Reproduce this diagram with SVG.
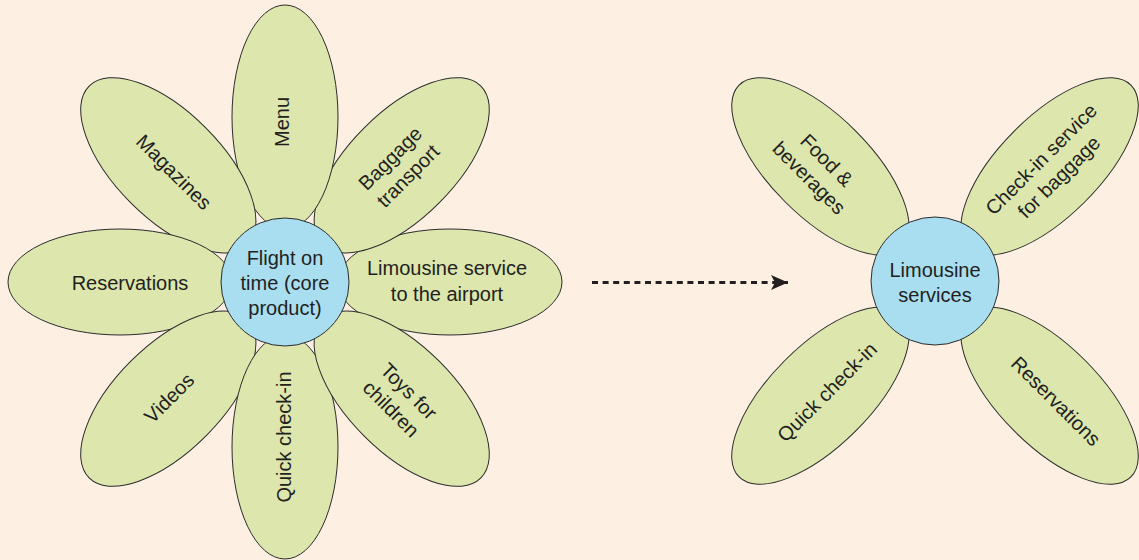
<svg xmlns="http://www.w3.org/2000/svg" width="1139" height="560" viewBox="0 0 1139 560">
  <defs>
    <style>
      .petal { fill: #dce6ad; stroke: #2b2b2b; stroke-width: 1; }
      .core { fill: #a9def0; stroke: #2b2b2b; stroke-width: 1; }
      .lbl { font-family: "Liberation Sans", Arial, sans-serif; font-size: 20px; fill: #231f20; text-anchor: middle; }
      .link { fill: none; stroke: #231f20; stroke-width: 2.8; stroke-dasharray: 6 4.6; }
    </style>
    <marker id="head" viewBox="0 0 18 16" refX="17" refY="8" markerWidth="18" markerHeight="16" markerUnits="userSpaceOnUse" orient="auto">
      <path d="M0,0.5 L17,8 L0,15.5 L4,8 Z" fill="#231f20"/>
    </marker>
  </defs>

  <rect width="1139" height="560" fill="#fdf0e2"/>

  <!-- Left flower: petals stacked bottom to top, then the core -->
  <g id="left-flower">
    <g id="petal-limousine">
      <ellipse class="petal" cx="450" cy="282" rx="112" ry="53"/>
      <text class="lbl" x="447" y="275">Limousine service</text>
      <text class="lbl" x="447" y="301">to the airport</text>
    </g>
    <g id="petal-baggage">
      <ellipse class="petal" cx="401.7" cy="165.3" rx="112" ry="53" transform="rotate(-45 401.7 165.3)"/>
      <g transform="translate(399 167) rotate(-45)">
        <text class="lbl" x="0" y="-5.5">Baggage</text>
        <text class="lbl" x="0" y="19.5">transport</text>
      </g>
    </g>
    <g id="petal-menu">
      <ellipse class="petal" cx="285" cy="117" rx="53" ry="112"/>
      <text class="lbl" transform="translate(282 122) rotate(-90)" x="0" y="7">Menu</text>
    </g>
    <g id="petal-magazines">
      <ellipse class="petal" cx="168.3" cy="165.3" rx="112" ry="53" transform="rotate(45 168.3 165.3)"/>
      <text class="lbl" transform="translate(174 172) rotate(45)" x="0" y="7">Magazines</text>
    </g>
    <g id="petal-reservations">
      <ellipse class="petal" cx="120" cy="282" rx="112" ry="53"/>
      <text class="lbl" x="130" y="290">Reservations</text>
    </g>
    <g id="petal-videos">
      <ellipse class="petal" cx="168.3" cy="398.7" rx="112" ry="53" transform="rotate(-45 168.3 398.7)"/>
      <text class="lbl" transform="translate(169 398) rotate(-45)" x="0" y="7">Videos</text>
    </g>
    <g id="petal-quick-checkin">
      <ellipse class="petal" cx="285" cy="447" rx="53" ry="112"/>
      <text class="lbl" transform="translate(284 437) rotate(-90)" x="0" y="7">Quick check-in</text>
    </g>
    <g id="petal-toys">
      <ellipse class="petal" cx="401.7" cy="398.7" rx="112" ry="53" transform="rotate(45 401.7 398.7)"/>
      <g transform="translate(400 400) rotate(45)">
        <text class="lbl" x="0" y="-5.5">Toys for</text>
        <text class="lbl" x="0" y="19.5">children</text>
      </g>
    </g>
    <g id="core-flight">
      <circle class="core" cx="285" cy="282" r="64"/>
      <text class="lbl" x="285" y="265">Flight on</text>
      <text class="lbl" x="285" y="290">time (core</text>
      <text class="lbl" x="285" y="315">product)</text>
    </g>
  </g>

  <!-- Right flower -->
  <g id="right-flower">
    <g id="petal-food">
      <ellipse class="petal" cx="820.4" cy="166.4" rx="115" ry="50" transform="rotate(45 820.4 166.4)"/>
      <g transform="translate(818 169) rotate(45)">
        <text class="lbl" x="0" y="-5.5">Food &amp;</text>
        <text class="lbl" x="0" y="19.5">beverages</text>
      </g>
    </g>
    <g id="petal-checkin-baggage">
      <ellipse class="petal" cx="1049.6" cy="166.4" rx="115" ry="50" transform="rotate(-45 1049.6 166.4)"/>
      <g transform="translate(1050 168) rotate(-45)">
        <text class="lbl" x="0" y="-5.5">Check-in service</text>
        <text class="lbl" x="0" y="19.5">for baggage</text>
      </g>
    </g>
    <g id="petal-quick-checkin-2">
      <ellipse class="petal" cx="820.4" cy="395.6" rx="115" ry="50" transform="rotate(-45 820.4 395.6)"/>
      <text class="lbl" transform="translate(827 392) rotate(-45)" x="0" y="7">Quick check-in</text>
    </g>
    <g id="petal-reservations-2">
      <ellipse class="petal" cx="1049.6" cy="395.6" rx="115" ry="50" transform="rotate(45 1049.6 395.6)"/>
      <text class="lbl" transform="translate(1056 401) rotate(45)" x="0" y="7">Reservations</text>
    </g>
    <g id="core-limousine">
      <circle class="core" cx="935" cy="281" r="64"/>
      <text class="lbl" x="935" y="277">Limousine</text>
      <text class="lbl" x="935" y="302">services</text>
    </g>
  </g>

  <!-- Connector between the two flowers -->
  <g id="connectors">
    <line class="link" x1="592" y1="282.5" x2="788" y2="282.5" marker-end="url(#head)"/>
  </g>
</svg>
